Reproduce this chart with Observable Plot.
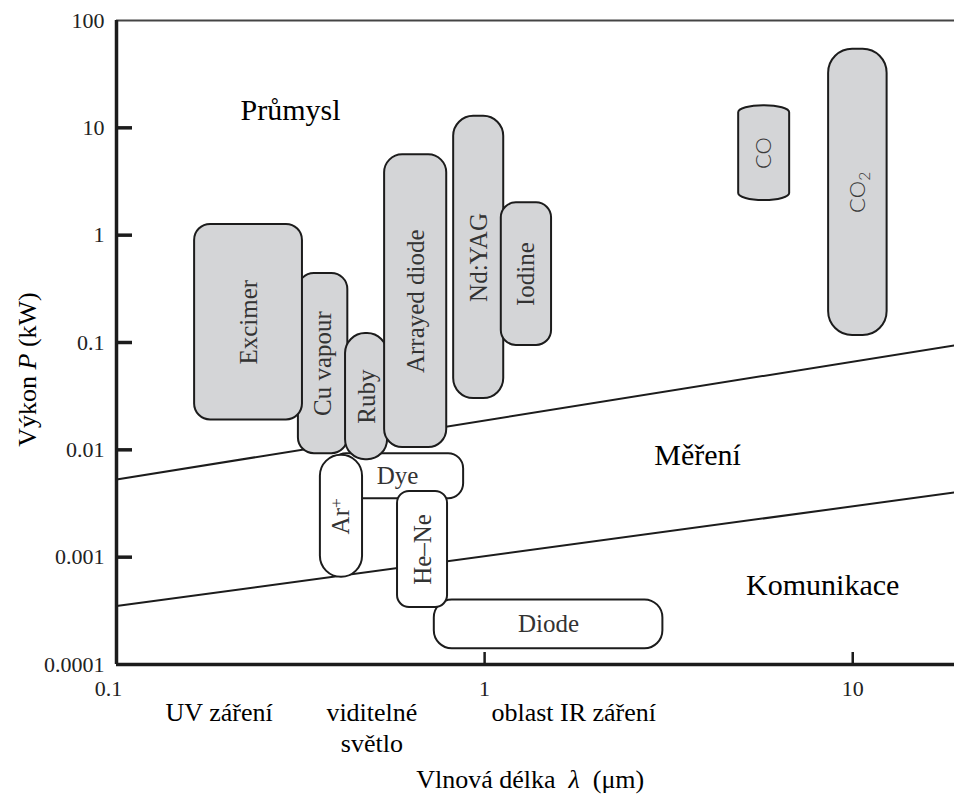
<!DOCTYPE html>
<html>
<head>
<meta charset="utf-8">
<script src="https://cdn.jsdelivr.net/npm/d3@7"></script>
<script src="https://cdn.jsdelivr.net/npm/@observablehq/plot@0.6"></script>
<style>
  body { margin: 0; background: #fff; }
  #chart svg { display: block; background: #fff; }
</style>
</head>
<body>
<div id="chart"></div>
<script>
// Laser types: wavelength span (µm) and output power span (kW), listed in drawing order
const laserNames = ["Diode", "Dye", "Ar+", "He–Ne", "Cu vapour", "Excimer", "Ruby", "Arrayed diode", "Nd:YAG", "Iodine", "CO", "CO2"];
const lambdaMin  = [0.73,  0.384, 0.358, 0.58,  0.312, 0.163, 0.419, 0.535, 0.824, 1.11, 4.9,  8.6];
const lambdaMax  = [3.05,  0.877, 0.466, 0.793, 0.425, 0.32,  0.545, 0.789, 1.127, 1.52, 6.74, 12.4];
const powerMin   = [0.00014, 0.0035, 0.00065, 0.00034, 0.0092, 0.019, 0.0081, 0.0105, 0.030, 0.094, 2.1, 0.116];
const powerMax   = [0.00040, 0.0092, 0.0089,  0.0041,  0.44,   1.26,  0.121,  5.6,    12.8,  2.0,   16.1, 54];

// Boundaries between the application zones
const boundaryLambda = [0.1, 18.9];
const upperBoundary  = [0.0053, 0.094];
const lowerBoundary  = [0.00035, 0.0040];

// Zone names inside the plot
const zoneNames  = ["Průmysl", "Měření", "Komunikace"];
const zoneLambda = [0.297, 3.79, 8.29];
const zonePower  = [14.5, 0.0088, 0.00055];

// Spectral bands under the wavelength axis
const bandNames  = ["UV záření", "viditelné\nsvětlo", "oblast IR záření"];
const bandLambda = [0.19, 0.494, 1.746];

// Tick values and labels
const yTickValues = [0.0001, 0.001, 0.01, 0.1, 1, 10, 100];
const yTickLabels = ["0.0001", "0.001", "0.01", "0.1", "1", "10", "100"];
const xTickValues = [0.1, 1, 10];
const xTickLabels = ["0.1", "1", "10"];

const yTitle = "Výkon P (kW)";
const xTitle = "Vlnová délka λ (μm)";

const lasers = laserNames.map((name, i) => ({
  name, x1: lambdaMin[i], x2: lambdaMax[i], y1: powerMin[i], y2: powerMax[i]
}));
const zones = zoneNames.map((name, i) => ({name, x: zoneLambda[i], y: zonePower[i]}));
const bands = bandNames.map((name, i) => ({name, x: bandLambda[i]}));
const boundaries = [
  boundaryLambda.map((x, i) => ({x, y: upperBoundary[i]})),
  boundaryLambda.map((x, i) => ({x, y: lowerBoundary[i]}))
];

// Low-power lasers are drawn as open (white) boxes
const openBoxes = new Set(["Diode", "Dye", "Ar+", "He–Ne"]);
const horizontalLabels = new Set(["Diode", "Dye"]);
const sansLabels = new Set(["CO", "CO2"]);
const corner = {
  "Diode": [18, 18], "Dye": [15, 15], "Ar+": [21, 21], "He–Ne": [12, 12],
  "Cu vapour": [16, 16], "Excimer": [16, 16], "Ruby": [20, 20], "Arrayed diode": [18, 18],
  "Nd:YAG": [20, 20], "Iodine": [15, 15], "CO": [25, 7], "CO2": [24, 24]
};

const ink = "#1c1c1c";
const serif = "'Liberation Serif', 'DejaVu Serif', serif";
const center = (a, b) => Math.sqrt(a * b);
const xLabel = d => xTickLabels[xTickValues.indexOf(d)];

const boxMarks = lasers.map(d => Plot.rect([d], {
  x1: "x1", x2: "x2", y1: "y1", y2: "y2",
  fill: openBoxes.has(d.name) ? "#ffffff" : "#d4d5d7",
  stroke: ink, strokeWidth: 2,
  rx: corner[d.name][0], ry: corner[d.name][1]
}));

const chart = Plot.plot({
  width: 954,
  height: 801,
  marginLeft: 116,
  marginRight: 0,
  marginTop: 20,
  marginBottom: 137,
  style: {fontFamily: serif, background: "#fff", color: ink},
  x: {type: "log", domain: [0.1, 18.9]},
  y: {type: "log", domain: [0.0001, 100]},
  marks: [
    // zone boundaries
    ...boundaries.map(b => Plot.line(b, {x: "x", y: "y", stroke: ink, strokeWidth: 2})),
    // laser boxes
    ...boxMarks,
    Plot.text(lasers.filter(d => !horizontalLabels.has(d.name) && !sansLabels.has(d.name)), {
      x: d => center(d.x1, d.x2), y: d => center(d.y1, d.y2), text: "name",
      rotate: -90, fontSize: 25, fill: "#333", fontFamily: serif
    }),
    Plot.text(lasers.filter(d => sansLabels.has(d.name)), {
      x: d => center(d.x1, d.x2), y: d => center(d.y1, d.y2), text: "name",
      rotate: -90, fontSize: 22, fill: "#3a3a3a", fontFamily: "Lato, 'Open Sans', sans-serif", fontWeight: 300
    }),
    Plot.text(lasers.filter(d => horizontalLabels.has(d.name)), {
      x: d => center(d.x1, d.x2), y: d => center(d.y1, d.y2), text: "name",
      fontSize: 25, fill: "#333", fontFamily: serif
    }),
    // zone names
    Plot.text(zones, {x: "x", y: "y", text: "name", fontSize: 30, fill: "#000", fontFamily: serif}),
    // frame: top border, left and bottom axis lines
    Plot.ruleY([100], {stroke: "#444", strokeWidth: 2}),
    Plot.ruleX([0.1], {stroke: ink, strokeWidth: 3.5}),
    Plot.ruleY([0.0001], {stroke: ink, strokeWidth: 3.5}),
    // inward ticks
    Plot.axisY({ticks: yTickValues.slice(1, -1), tickSize: 16, dx: 16, tickFormat: () => "", stroke: ink, strokeWidth: 3.5}),
    Plot.axisX({ticks: xTickValues.slice(1), tickSize: 12, dy: -12, tickFormat: () => "", stroke: ink, strokeWidth: 2.5}),
    // tick labels
    Plot.axisY({ticks: yTickValues, tickSize: 0, tickPadding: 12,
      tickFormat: d => yTickLabels[yTickValues.indexOf(d)], fontSize: 22, fill: "#222", fontFamily: serif}),
    Plot.axisX({ticks: xTickValues.slice(0, 1), tickSize: 0, tickPadding: 16, dx: -8,
      tickFormat: xLabel, fontSize: 22, fill: "#222", fontFamily: serif}),
    Plot.axisX({ticks: xTickValues.slice(1), tickSize: 0, tickPadding: 16,
      tickFormat: xLabel, fontSize: 22, fill: "#222", fontFamily: serif}),
    // spectral bands
    Plot.text(bands, {x: "x", text: "name", frameAnchor: "bottom", lineAnchor: "top", dy: 34,
      lineHeight: 1.2, fontSize: 26, fill: "#000", fontFamily: serif}),
    // axis titles
    Plot.text([xTitle], {x: [1.33], text: d => d, frameAnchor: "bottom", lineAnchor: "bottom", dy: 123,
      textAnchor: "middle", fontSize: 26, fill: "#000", fontFamily: serif}),
    Plot.text([yTitle], {text: d => d, frameAnchor: "left", dx: -89, dy: 27, rotate: -90,
      textAnchor: "middle", fontSize: 26, fill: "#000", fontFamily: serif})
  ]
});

// Rich text: italic symbols, superscript and subscript
const svg = d3.select(chart);
svg.selectAll("text").each(function () {
  const el = d3.select(this);
  const t = this.textContent;
  const parts = (pieces) => {
    el.text(null);
    for (const [s, style] of pieces) {
      const sp = el.append("tspan").text(s);
      if (style === "i") sp.attr("font-style", "italic");
      if (style === "sup") sp.attr("dy", "-0.45em").attr("font-size", "70%");
      if (style === "sub") sp.attr("dy", "0.3em").attr("font-size", "70%");
    }
  };
  if (t === "Ar+") parts([["Ar"], ["+", "sup"]]);
  else if (t === "CO2") parts([["CO"], ["2", "sub"]]);
  else if (t === yTitle) parts([["Výkon "], ["P", "i"], [" (kW)"]]);
  else if (t === xTitle) parts([["Vlnová délka\u2002"], ["λ", "i"], ["\u2002(μm)"]]);
});

document.getElementById("chart").appendChild(chart);
</script>
</body>
</html>
